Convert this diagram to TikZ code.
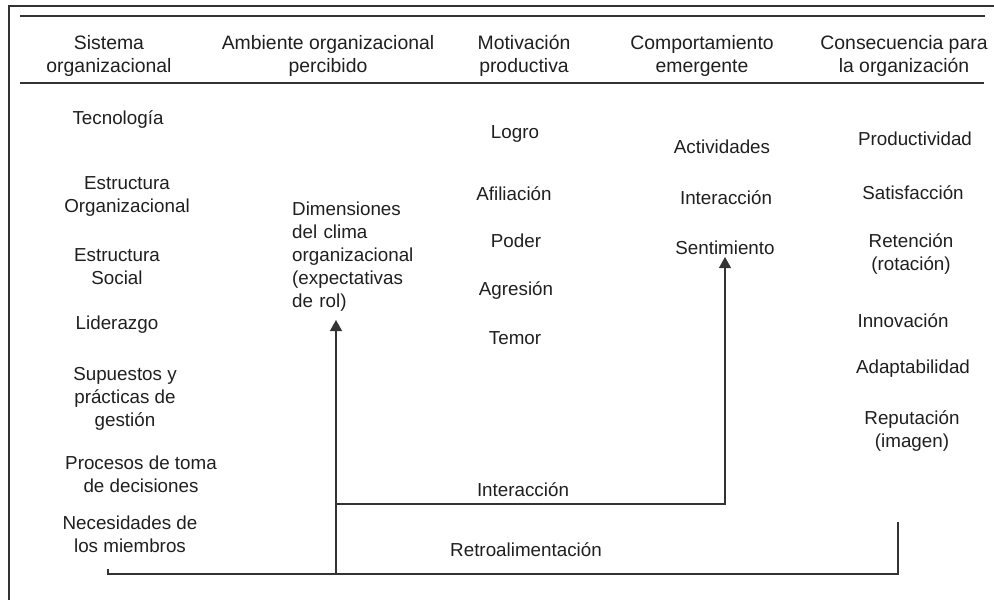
\documentclass[tikz,border=0pt]{standalone}
\usepackage{fontspec}
\setmainfont{Liberation Sans}
\usetikzlibrary{arrows.meta}
\setlength{\parindent}{0pt}
\begin{document}
\begin{tikzpicture}[x=1pt,y=-1pt,
  lbl/.style={inner sep=0pt, align=center, font=\fontsize{18.8}{23}\selectfont, text=black!88},
  hdr/.style={lbl, font=\fontsize{19.4}{22.5}\selectfont},
  rule/.style={line width=1.2pt, draw=black!80},
  conn/.style={line width=1.2pt, draw=black!80},
  arr/.style={conn, -{Triangle[width=12pt,length=11pt]}}]
\useasboundingbox (0,0) rectangle (994,600);
% frame and header rules
\draw[rule] (9,600) -- (9,6) -- (994,6);
\draw[rule] (20,16) -- (985,16);
\draw[rule] (20,83) -- (984,83);
% headers
\node[hdr] (h1) at (109,56) {Sistema\\organizacional};
\node[hdr] (h2) at (328,56) {Ambiente organizacional\\percibido};
\node[hdr] (h3) at (524,56) {Motivación\\productiva};
\node[hdr] (h4) at (702,56) {Comportamiento\\emergente};
\node[hdr] (h5) at (904,56) {Consecuencia para\\la organización};
% column 1
\node[lbl] (tec) at (118,120) {Tecnología};
\node[lbl] (eo) at (127,196) {Estructura\\Organizacional};
\node[lbl] (es) at (117,267) {Estructura\\Social};
\node[lbl] (lid) at (117,325) {Liderazgo};
\node[lbl] (sup) at (125,399) {Supuestos y\\prácticas de\\gestión};
\node[lbl] (proc) at (141,474) {Procesos de toma\\de decisiones};
\node[lbl] (nec) at (130,534) {Necesidades de\\los miembros};
% column 2
\node[lbl, text width=125pt, align=left, anchor=west] (dim) at (292,257) {Dimensiones\\del clima\\organizacional\\(expectativas\\de rol)};
% column 3
\node[lbl] (logro) at (515,134) {Logro};
\node[lbl] (afil) at (514,194) {Afiliación};
\node[lbl] (poder) at (516,241) {Poder};
\node[lbl] (agre) at (516,291) {Agresión};
\node[lbl] (temor) at (515,338) {Temor};
% column 4
\node[lbl] (activ) at (722,147) {Actividades};
\node[lbl] (inter) at (726,198) {Interacción};
\node[lbl] (sent) at (725,248) {Sentimiento};
% column 5
\node[lbl] (prod) at (915,139) {Productividad};
\node[lbl] (satis) at (913,193) {Satisfacción};
\node[lbl] (ret) at (911,254) {Retención\\(rotación)};
\node[lbl] (innov) at (903,321) {Innovación};
\node[lbl] (adap) at (913,369) {Adaptabilidad};
\node[lbl] (rep) at (912,431) {Reputación\\(imagen)};
% connector labels
\node[lbl] (linter) at (523,490) {Interacción};
\node[lbl] (lretro) at (526,550) {Retroalimentación};
% connectors
\coordinate (dimtip) at (336,320);
\coordinate (senttip) at (725,257);
\coordinate (fbA) at (108,569);
\coordinate (fbB) at (108,574);
\coordinate (fbC) at (336,574);
\coordinate (fbD) at (898,574);
\coordinate (fbE) at (898,522);
\coordinate (intA) at (336,504);
\coordinate (intB) at (725,504);
\draw[conn] (fbA) -- (fbB) -- (fbD) -- (fbE);
\draw[arr] (fbC) -- (dimtip);
\draw[arr] (intA) -- (intB) -- (senttip);
\end{tikzpicture}
\end{document}
